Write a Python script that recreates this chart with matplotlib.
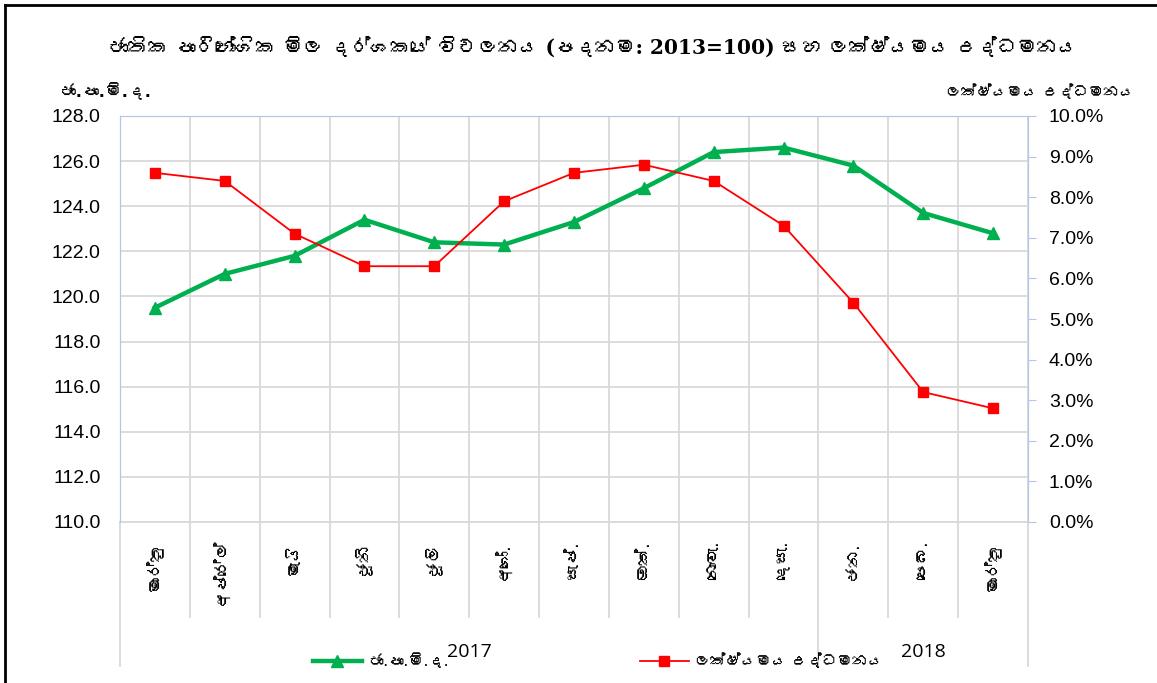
import glob, os
import numpy as np
import matplotlib
matplotlib.use("Agg")
import matplotlib.pyplot as plt
from matplotlib import font_manager
from matplotlib.ft2font import FT2Font
from matplotlib.lines import Line2D
from matplotlib.ticker import FuncFormatter, MultipleLocator

# ---------------- data ----------------
months = ["මාර්තු", "අප්‍රේල්", "මැයි", "ජූනි", "ජූලි", "අගෝ.", "සැප්.", "ඔක්.",
          "නොවැ.", "දෙසැ.", "ජන.", "පෙබ.", "මාර්තු"]
years = ["2017", "2018"]
year_counts = [10, 3]
ccpi = [119.5, 121.0, 121.8, 123.4, 122.4, 122.3, 123.3, 124.8, 126.4, 126.6, 125.8, 123.7, 122.8]
inflation = [8.6, 8.4, 7.1, 6.3, 6.3, 7.9, 8.6, 8.8, 8.4, 7.3, 5.4, 3.2, 2.8]

title = "ජාතික පාරිභෝගික මිල දර්ශකයේ විචලනය (පදනම: 2013=100) සහ ලක්ෂ්‍යමය උද්ධමනය"
left_label = "ජා.පා.මි.ද."
right_label = "ලක්ෂ්‍යමය උද්ධමනය"
legend_labels = ["ජා.පා.මි.ද.", "ලක්ෂ්‍යමය උද්ධමනය"]

# ---------------- font search (a font that has Sinhala glyphs) ----------------
def find_fonts(ch):
    res = []
    paths = set(f.fname for f in font_manager.fontManager.ttflist)
    for pat in ["/usr/share/fonts/**/*", "/usr/local/share/fonts/**/*"]:
        paths.update(p for p in glob.glob(pat, recursive=True)
                     if p.lower().endswith((".ttf", ".otf", ".ttc")))
    for p in sorted(paths):
        try:
            if ord(ch) in FT2Font(p).get_charmap():
                res.append(p)
        except Exception:
            pass
    return res

sin_fonts = find_fonts("ජ")
sin_family = []
if sin_fonts:
    font_manager.fontManager.addfont(sin_fonts[0])
    sin_family = [FT2Font(sin_fonts[0]).family_name]

SANS = ["DejaVu Sans"] + sin_family
SERIF = ["DejaVu Serif"] + sin_family
plt.rcParams["font.family"] = SANS

W, H = 1157, 683
fig = plt.figure(figsize=(W / 100, H / 100), dpi=100)
fig.patch.set_facecolor("white")

L, R, T, B = 120, 1028, 116, 522
ax = fig.add_axes([L / W, 1 - B / H, (R - L) / W, (B - T) / H])
ax2 = ax.twinx()

x = np.arange(len(months))
n = len(months)

grid_c = "#D9D9D9"
spine_c = "#B4C7E7"
green = "#00B050"
red = "#FF0000"

ax.set_xlim(-0.5, n - 0.5)
ax.set_ylim(110, 128)
ax.yaxis.set_major_locator(MultipleLocator(2))
ax.yaxis.set_major_formatter(FuncFormatter(lambda v, p: f"{v:.1f}"))
ax.grid(axis="y", color=grid_c, lw=1.3)
ax.set_axisbelow(True)

ax2.set_ylim(0, 10)
ax2.yaxis.set_major_locator(MultipleLocator(1))
ax2.yaxis.set_major_formatter(FuncFormatter(lambda v, p: f"{v:.1f}%"))

# vertical category boundaries
for b in np.arange(n + 1) - 0.5:
    ax.axvline(b, color=grid_c, lw=1.3, zorder=0)

# boundary lines below the axis (two-level category axis)
trans = ax.get_xaxis_transform()
bnd_years = np.concatenate([[0], np.cumsum(year_counts)]) - 0.5
low_month = -(617 - B) / (B - T)
low_year = -(666 - B) / (B - T)
for b in np.arange(n + 1) - 0.5:
    yl = low_year if b in bnd_years else low_month
    ax.plot([b, b], [0, yl], transform=trans, color=grid_c, lw=1.3, clip_on=False)

for sp in ["left", "top", "right"]:
    ax.spines[sp].set_color(spine_c)
    ax2.spines[sp].set_color(spine_c)
ax.spines["bottom"].set_color(grid_c)
ax2.spines["bottom"].set_visible(False)
ax.spines["bottom"].set_linewidth(1.3)

ax.tick_params(axis="y", length=0, labelsize=14, pad=14)
ax2.tick_params(axis="y", length=6, color=spine_c, labelsize=14, pad=9)
ax.set_xticks(x)
ax.set_xticklabels(months, rotation=90, fontsize=12, va="top", ha="center")
ax.tick_params(axis="x", length=0, pad=14)

for lab in ax.get_yticklabels() + ax2.get_yticklabels():
    lab.set_family(["Liberation Sans", "DejaVu Sans"])

ax.plot(x, ccpi, color=green, lw=3.2, marker="^", ms=8, zorder=3)
ax2.plot(x, inflation, color=red, lw=1.3, marker="s", ms=7.5, zorder=4)

# year labels (second level of the category axis)
starts = np.concatenate([[0], np.cumsum(year_counts)[:-1]])
for yr, s, c in zip(years, starts, year_counts):
    cx = s - 0.5 + c / 2
    ax.text(cx, -(652 - B) / (B - T), yr, transform=trans, ha="center", va="center",
            fontsize=14, family=["Open Sans", "DejaVu Sans"])

# titles / axis labels
fig.text(593 / W, 1 - 47 / H, title, ha="center", va="center", fontsize=14.5,
         fontweight="bold", family=SERIF)
fig.text(106 / W, 1 - 92 / H, left_label, ha="center", va="center", fontsize=12, fontweight="bold")
fig.text(1040 / W, 1 - 92 / H, right_label, ha="center", va="center", fontsize=11, fontweight="bold")

# legend (two entries)
h1 = Line2D([], [], color=green, lw=3.2, marker="^", ms=8)
h2 = Line2D([], [], color=red, lw=1.3, marker="s", ms=7.5)
for h, lab, x0 in [(h1, legend_labels[0], 313), (h2, legend_labels[1], 640)]:
    fig.legend([h], [lab], loc="center left", bbox_to_anchor=(x0 / W, 1 - 661 / H),
               frameon=False, fontsize=11, borderpad=0, borderaxespad=0,
               handlelength=3.2, handletextpad=0.4)

# outer frame
fig.add_artist(Line2D([5 / W, 5 / W], [0, 1 - 5 / H], color="black", lw=2, transform=fig.transFigure))
fig.add_artist(Line2D([5 / W, 1], [1 - 5 / H, 1 - 5 / H], color="black", lw=2, transform=fig.transFigure))

fig.savefig("out.png", dpi=100)
